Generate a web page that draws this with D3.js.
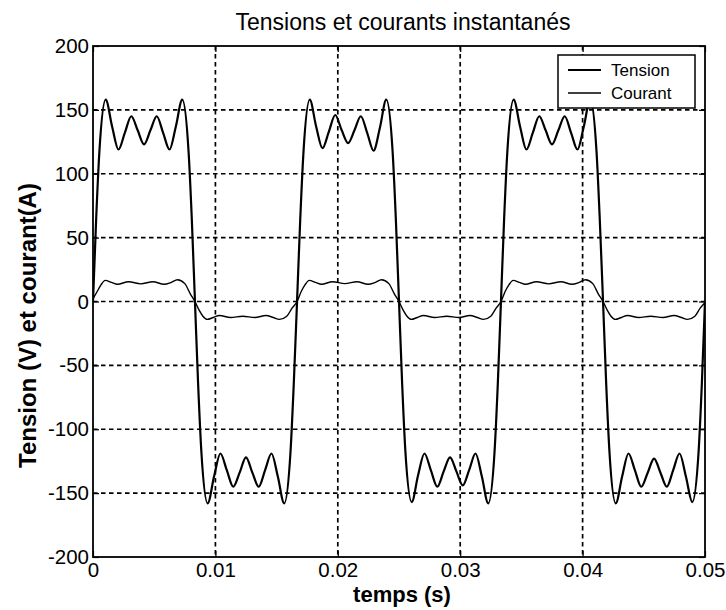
<!DOCTYPE html>
<html>
<head>
<meta charset="utf-8">
<script src="https://cdn.jsdelivr.net/npm/d3@7"></script>
<style>
  html, body { margin: 0; padding: 0; background: #fff; }
  svg { display: block; }
  text { font-family: "Liberation Sans", Arial, Helvetica, sans-serif; fill: #000; }
</style>
</head>
<body>
<svg id="chart" width="726" height="610"></svg>
<script>
// ---------- DATA ----------
const title = "Tensions et courants instantanés";
const xLabel = "temps (s)";
const yLabel = "Tension (V) et courant(A)";
const seriesNames = ["Tension", "Courant"];

const xTickValues = [0, 0.01, 0.02, 0.03, 0.04, 0.05];
const xTickLabels = ["0", "0.01", "0.02", "0.03", "0.04", "0.05"];
const yTickValues = [-200, -150, -100, -50, 0, 50, 100, 150, 200];
const yTickLabels = ["-200", "-150", "-100", "-50", "0", "50", "100", "150", "200"];

// Tension (V): time (s) and value
const tensionTime = [
  0.00000, 0.00026, 0.00052, 0.00104, 0.00156, 0.00208, 0.00260, 0.00313, 0.00365, 0.00417, 0.00469, 0.00521, 0.00573, 0.00625, 0.00677, 0.00729, 0.00781, 0.00807,
  0.00833, 0.00859, 0.00885, 0.00937, 0.00989, 0.01041, 0.01093, 0.01146, 0.01198, 0.01250, 0.01302, 0.01354, 0.01406, 0.01458, 0.01510, 0.01562, 0.01614, 0.01640,
  0.01667, 0.01693, 0.01719, 0.01771, 0.01823, 0.01875, 0.01927, 0.01979, 0.02032, 0.02084, 0.02136, 0.02188, 0.02240, 0.02292, 0.02344, 0.02396, 0.02448, 0.02474,
  0.02500, 0.02526, 0.02552, 0.02604, 0.02656, 0.02708, 0.02760, 0.02813, 0.02865, 0.02917, 0.02969, 0.03021, 0.03073, 0.03125, 0.03177, 0.03229, 0.03281, 0.03307,
  0.03333, 0.03359, 0.03385, 0.03437, 0.03489, 0.03541, 0.03593, 0.03646, 0.03698, 0.03750, 0.03802, 0.03854, 0.03906, 0.03958, 0.04010, 0.04062, 0.04114, 0.04140,
  0.04167, 0.04193, 0.04219, 0.04271, 0.04323, 0.04375, 0.04427, 0.04479, 0.04532, 0.04584, 0.04636, 0.04688, 0.04740, 0.04792, 0.04844, 0.04896, 0.04948, 0.04974,
  0.05000
];
const tensionValue = [
  0, 65, 117, 158, 137, 119, 132, 145, 134, 123, 134, 145, 132, 119, 137, 158, 117, 65,
  0, -65, -117, -158, -137, -119, -132, -145, -134, -122, -134, -145, -132, -119, -137, -158, -117, -65,
  0, 64, 116, 158, 137, 120, 133, 146, 134, 124, 134, 145, 132, 118, 136, 158, 117, 65,
  0, -65, -117, -157, -136, -119, -132, -145, -133, -122, -133, -144, -132, -119, -137, -158, -117, -65,
  0, 65, 117, 158, 137, 119, 132, 145, 134, 123, 134, 145, 132, 119, 137, 158, 117, 65,
  0, -65, -117, -158, -137, -119, -132, -145, -134, -123, -134, -145, -132, -119, -137, -157, -117, -65,
  0
];

// Courant (A): time (s) and value
const courantTime = [
  0.00000, 0.00035, 0.00065, 0.00100, 0.00150, 0.00200, 0.00290, 0.00390, 0.00490, 0.00580, 0.00640, 0.00690, 0.00750, 0.00795,
  0.00833, 0.00868, 0.00898, 0.00933, 0.00983, 0.01033, 0.01123, 0.01223, 0.01323, 0.01413, 0.01473, 0.01523, 0.01583, 0.01628,
  0.01667, 0.01702, 0.01732, 0.01767, 0.01817, 0.01867, 0.01957, 0.02057, 0.02157, 0.02247, 0.02307, 0.02357, 0.02417, 0.02462,
  0.02500, 0.02535, 0.02565, 0.02600, 0.02650, 0.02700, 0.02790, 0.02890, 0.02990, 0.03080, 0.03140, 0.03190, 0.03250, 0.03295,
  0.03333, 0.03368, 0.03398, 0.03433, 0.03483, 0.03533, 0.03623, 0.03723, 0.03823, 0.03913, 0.03973, 0.04023, 0.04083, 0.04128,
  0.04167, 0.04202, 0.04232, 0.04267, 0.04317, 0.04367, 0.04457, 0.04557, 0.04657, 0.04747, 0.04807, 0.04857, 0.04917, 0.04962,
  0.05000
];
const courantValue = [
  2, 8, 13, 16.5, 15, 13.5, 15.5, 13.8, 15.5, 13.5, 15, 17, 14, 6,
  0, -7, -11.5, -14, -12.5, -11, -12.5, -11.5, -12.5, -11, -12.5, -14, -11.5, -5,
  0, 8, 13, 16.5, 15, 13.5, 15.5, 14, 15.5, 13.5, 15, 17, 14, 6,
  0, -7, -11.5, -14, -12.5, -11, -12.5, -11.5, -12.5, -11, -12.5, -14, -11.5, -5,
  0, 8, 13, 16.5, 15, 13.5, 15.5, 13.8, 15.5, 13.5, 15, 17, 14, 6,
  0, -7, -11.5, -14, -12.5, -11, -12.5, -11.5, -12.5, -11, -12.5, -14, -11.5, -5,
  -1
];

// ---------- CHART ----------
const svg = d3.select("#chart");
const L = 93, R = 705, T = 46, B = 557;

const x = d3.scaleLinear().domain([0, 0.05]).range([L, R]);
const y = d3.scaleLinear().domain([-200, 200]).range([B, T]);

svg.append("rect").attr("width", 726).attr("height", 610).attr("fill", "#fff");

// grid
const grid = svg.append("g").attr("stroke", "#000").attr("stroke-width", 1.7)
  .attr("stroke-dasharray", "4.5,3.5").attr("fill", "none");
grid.selectAll("line.v").data(xTickValues.slice(1, -1)).enter().append("line")
  .attr("x1", d => x(d)).attr("x2", d => x(d)).attr("y1", T).attr("y2", B);
grid.selectAll("line.h").data(yTickValues.slice(1, -1)).enter().append("line")
  .attr("x1", L).attr("x2", R).attr("y1", d => y(d)).attr("y2", d => y(d));

// axes
const fmtX = (d, i) => xTickLabels[i];
const fmtY = (d, i) => yTickLabels[i];
const axB = svg.append("g").attr("transform", `translate(0,${B})`)
  .call(d3.axisBottom(x).tickValues(xTickValues).tickFormat(fmtX).tickSizeInner(-6).tickSizeOuter(0).tickPadding(5));
const axL = svg.append("g").attr("transform", `translate(${L},0)`)
  .call(d3.axisLeft(y).tickValues(yTickValues).tickFormat(fmtY).tickSizeInner(-6).tickSizeOuter(0).tickPadding(4));
const axT = svg.append("g").attr("transform", `translate(0,${T})`)
  .call(d3.axisTop(x).tickValues(xTickValues).tickFormat("").tickSizeInner(-6).tickSizeOuter(0));
const axR = svg.append("g").attr("transform", `translate(${R},0)`)
  .call(d3.axisRight(y).tickValues(yTickValues).tickFormat("").tickSizeInner(-6).tickSizeOuter(0));
[axB, axL, axT, axR].forEach(a => {
  a.select(".domain").remove();
  a.selectAll(".tick line").attr("stroke", "#000").attr("stroke-width", 1.2);
  a.selectAll("text").attr("font-size", 20.5).attr("font-family", "Liberation Sans, Arial, sans-serif").attr("fill", "#000");
});

// lines
const line = d3.line().x(d => x(d[0])).y(d => y(d[1])).curve(d3.curveMonotoneX);
const tensionData = tensionTime.map((t, i) => [t, tensionValue[i]]);
const courantData = courantTime.map((t, i) => [t, courantValue[i]]);

svg.append("clipPath").attr("id", "clip").append("rect")
  .attr("x", L).attr("y", T).attr("width", R - L).attr("height", B - T);
const plot = svg.append("g").attr("clip-path", "url(#clip)");
plot.append("path").datum(courantData).attr("d", line)
  .attr("fill", "none").attr("stroke", "#000").attr("stroke-width", 1.4);
plot.append("path").datum(tensionData).attr("d", line)
  .attr("fill", "none").attr("stroke", "#000").attr("stroke-width", 2.2).attr("stroke-linejoin", "round");

// border
svg.append("rect").attr("x", L).attr("y", T).attr("width", R - L).attr("height", B - T)
  .attr("fill", "none").attr("stroke", "#000").attr("stroke-width", 1.8);

// title & labels
svg.append("text").attr("x", (L + R) / 2 + 4).attr("y", 30).attr("text-anchor", "middle")
  .attr("font-size", 23).text(title);
svg.append("text").attr("x", (L + R) / 2 + 3).attr("y", 602).attr("text-anchor", "middle")
  .attr("font-size", 22).attr("font-weight", "bold").text(xLabel);
svg.append("text").attr("transform", `translate(36,${(T + B) / 2 + 24}) rotate(-90)`)
  .attr("text-anchor", "middle").attr("font-size", 24).attr("font-weight", "bold").text(yLabel);

// legend
const lg = svg.append("g");
lg.append("rect").attr("x", 558).attr("y", 55).attr("width", 137).attr("height", 53)
  .attr("fill", "#fff").attr("stroke", "#000").attr("stroke-width", 1.5);
const legendWidths = [2.2, 1.4];
seriesNames.forEach((name, i) => {
  const ly = 70 + i * 23;
  lg.append("line").attr("x1", 568).attr("x2", 601).attr("y1", ly).attr("y2", ly)
    .attr("stroke", "#000").attr("stroke-width", legendWidths[i]);
  lg.append("text").attr("x", 611).attr("y", ly + 6).attr("font-size", 17).text(name);
});
</script>
</body>
</html>
